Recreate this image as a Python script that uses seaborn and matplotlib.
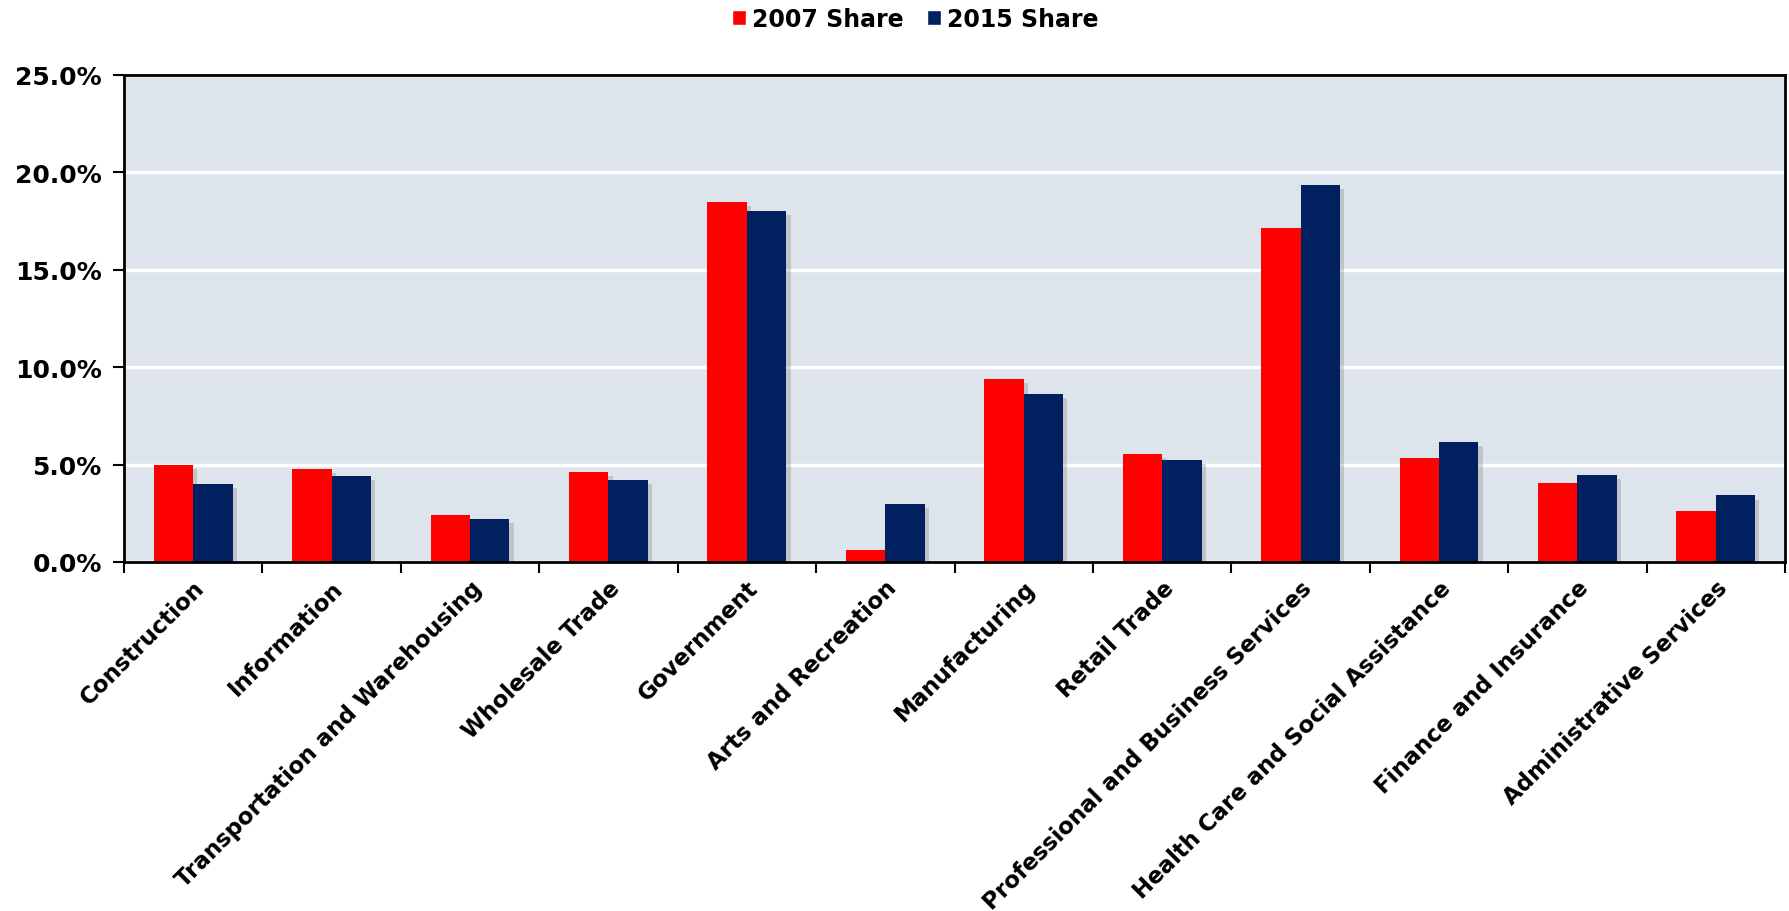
import pandas as pd
import matplotlib
matplotlib.use('Agg')
import matplotlib.pyplot as plt
import matplotlib.patheffects as pe
from matplotlib.patches import Patch
from matplotlib.ticker import PercentFormatter, FixedLocator
import seaborn as sns

# 업종별 비중 (%)
categories = ['Construction', 'Information', 'Transportation and Warehousing',
              'Wholesale Trade', 'Government', 'Arts and Recreation',
              'Manufacturing', 'Retail Trade', 'Professional and Business Services',
              'Health Care and Social Assistance', 'Finance and Insurance',
              'Administrative Services']
share_2007 = [5.0, 4.77, 2.43, 4.61, 18.48, 0.60, 9.40, 5.55, 17.15, 5.32, 4.07, 2.60]
share_2015 = [4.0, 4.43, 2.23, 4.23, 18.02, 2.98, 8.62, 5.26, 19.37, 6.18, 4.47, 3.42]
series = ['2007 Share', '2015 Share']
colors = ['#ff0000', '#002060']

df = pd.DataFrame({
    'category': categories * 2,
    'share': share_2007 + share_2015,
    'series': [series[0]] * len(categories) + [series[1]] * len(categories),
})

sns.set_style('white')
plt.rcParams['font.family'] = ['DejaVu Sans']
plt.rcParams['font.weight'] = 'bold'
plt.rcParams['text.color'] = 'black'
plt.rcParams['xtick.color'] = 'black'
plt.rcParams['ytick.color'] = 'black'

fig = plt.figure(figsize=(17.89, 9.12), dpi=100)
ax = fig.add_axes([0.0693, 0.3827, 0.9285, 0.534])
ax.set_facecolor('#dde4eb')

sns.barplot(data=df, x='category', y='share', hue='series', order=categories,
            hue_order=series, palette=colors, width=0.57, ax=ax, legend=False,
            linewidth=0, saturation=1)

for p in ax.patches:
    p.set_path_effects([pe.SimplePatchShadow(offset=(3, -3), shadow_rgbFace='#8a8a8a', alpha=0.35),
                        pe.Normal()])

ax.set_ylim(0, 25)
ax.set_xlim(-0.5, len(categories) - 0.5)
ax.yaxis.set_major_locator(FixedLocator([0, 5, 10, 15, 20, 25]))
ax.yaxis.set_major_formatter(PercentFormatter(xmax=100, decimals=1))
ax.grid(axis='y', color='white', linewidth=2.5)
ax.set_axisbelow(True)

for s in ax.spines.values():
    s.set_visible(True)
    s.set_color('black')
    s.set_linewidth(2)

ax.tick_params(axis='y', direction='out', length=8, width=1.5, labelsize=18, pad=8, left=True,
               labelcolor='black')
ax.set_xticks(range(len(categories)))
ax.set_xticklabels(categories, rotation=45, ha='right', rotation_mode='anchor', fontsize=16.5,
                   fontweight='bold', color='black')
ax.tick_params(axis='x', which='major', length=0, pad=10)
ax.set_xticks([i - 0.5 for i in range(len(categories) + 1)], minor=True)
ax.tick_params(axis='x', which='minor', direction='out', length=8, width=1.5, bottom=True)
for lbl in ax.get_yticklabels():
    lbl.set_fontweight('bold')
ax.set_xlabel('')
ax.set_ylabel('')

handles = [Patch(facecolor=c, label=s) for c, s in zip(colors, series)]
fig.legend(handles=handles, loc='center', bbox_to_anchor=(0.5115, 0.978), ncol=2,
           frameon=False, handlelength=0.6, handleheight=0.6, labelcolor='black',
           handletextpad=0.25, columnspacing=1.0, borderpad=0, borderaxespad=0,
           prop={'weight': 'bold', 'size': 17})

fig.savefig('out.png', dpi=100)
